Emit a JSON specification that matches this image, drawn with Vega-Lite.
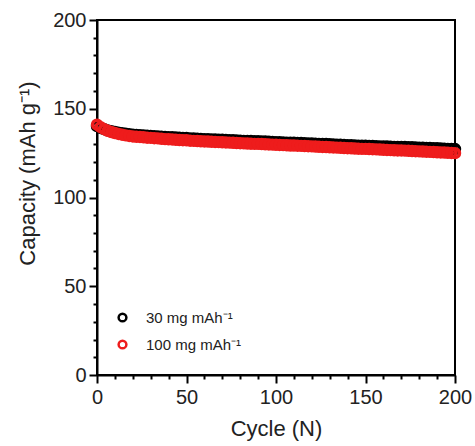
{
  "$schema": "https://vega.github.io/schema/vega-lite/v6.json",
  "autosize": {"type": "none"},
  "width": 358,
  "height": 355,
  "padding": {"left": 97, "top": 20, "right": 20, "bottom": 71},
  "background": "white",
  "config": {
    "font": "Liberation Sans",
    "view": {"stroke": "#000000", "strokeWidth": 2},
    "axis": {
      "domainColor": "#000000", "domainWidth": 2,
      "tickColor": "#000000", "tickWidth": 2,
      "grid": false,
      "labelFont": "Liberation Sans", "labelFontSize": 20, "labelColor": "#222222",
      "titleFont": "Liberation Sans", "titleFontSize": 22, "titleFontWeight": "normal", "titleColor": "#222222",
      "labelFlush": false, "labelOverlap": false
    }
  },
  "data": {"values": [
    {"c":0,"s30":140.2,"s100":141.0},{"c":2,"s30":139.2,"s100":139.6},{"c":4,"s30":138.5,"s100":138.5},{"c":6,"s30":137.8,"s100":137.6},{"c":8,"s30":137.3,"s100":136.9},
    {"c":10,"s30":136.9,"s100":136.3},{"c":12,"s30":136.5,"s100":135.8},{"c":14,"s30":136.2,"s100":135.4},{"c":16,"s30":135.9,"s100":135.0},{"c":18,"s30":135.6,"s100":134.7},
    {"c":20,"s30":135.4,"s100":134.4},{"c":22,"s30":135.2,"s100":134.2},{"c":24,"s30":135.1,"s100":134.1},{"c":26,"s30":134.9,"s100":133.9},{"c":28,"s30":134.8,"s100":133.7},
    {"c":30,"s30":134.7,"s100":133.6},{"c":32,"s30":134.5,"s100":133.4},{"c":34,"s30":134.4,"s100":133.3},{"c":36,"s30":134.3,"s100":133.1},{"c":38,"s30":134.1,"s100":132.9},
    {"c":40,"s30":134.0,"s100":132.8},{"c":42,"s30":133.9,"s100":132.7},{"c":44,"s30":133.8,"s100":132.5},{"c":46,"s30":133.7,"s100":132.4},{"c":48,"s30":133.6,"s100":132.3},
    {"c":50,"s30":133.5,"s100":132.2},{"c":52,"s30":133.3,"s100":132.0},{"c":54,"s30":133.2,"s100":131.9},{"c":56,"s30":133.1,"s100":131.8},{"c":58,"s30":133.0,"s100":131.7},
    {"c":60,"s30":132.9,"s100":131.6},{"c":62,"s30":132.8,"s100":131.5},{"c":64,"s30":132.7,"s100":131.4},{"c":66,"s30":132.7,"s100":131.3},{"c":68,"s30":132.6,"s100":131.2},
    {"c":70,"s30":132.5,"s100":131.1},{"c":72,"s30":132.4,"s100":131.0},{"c":74,"s30":132.3,"s100":130.9},{"c":76,"s30":132.2,"s100":130.8},{"c":78,"s30":132.1,"s100":130.7},
    {"c":80,"s30":132.0,"s100":130.6},{"c":82,"s30":131.9,"s100":130.5},{"c":84,"s30":131.8,"s100":130.4},{"c":86,"s30":131.8,"s100":130.3},{"c":88,"s30":131.7,"s100":130.2},
    {"c":90,"s30":131.7,"s100":130.2},{"c":92,"s30":131.6,"s100":130.1},{"c":94,"s30":131.5,"s100":130.0},{"c":96,"s30":131.4,"s100":129.9},{"c":98,"s30":131.3,"s100":129.8},
    {"c":100,"s30":131.2,"s100":129.7},{"c":102,"s30":131.1,"s100":129.6},{"c":104,"s30":131.0,"s100":129.5},{"c":106,"s30":130.9,"s100":129.4},{"c":108,"s30":130.8,"s100":129.3},
    {"c":110,"s30":130.8,"s100":129.3},{"c":112,"s30":130.7,"s100":129.2},{"c":114,"s30":130.7,"s100":129.1},{"c":116,"s30":130.6,"s100":129.0},{"c":118,"s30":130.5,"s100":128.9},
    {"c":120,"s30":130.4,"s100":128.8},{"c":122,"s30":130.3,"s100":128.7},{"c":124,"s30":130.2,"s100":128.6},{"c":126,"s30":130.1,"s100":128.5},{"c":128,"s30":130.1,"s100":128.4},
    {"c":130,"s30":130.0,"s100":128.3},{"c":132,"s30":129.9,"s100":128.2},{"c":134,"s30":129.8,"s100":128.1},{"c":136,"s30":129.7,"s100":128.0},{"c":138,"s30":129.6,"s100":127.9},
    {"c":140,"s30":129.5,"s100":127.8},{"c":142,"s30":129.4,"s100":127.7},{"c":144,"s30":129.3,"s100":127.6},{"c":146,"s30":129.2,"s100":127.5},{"c":148,"s30":129.2,"s100":127.4},
    {"c":150,"s30":129.2,"s100":127.4},{"c":152,"s30":129.1,"s100":127.3},{"c":154,"s30":129.0,"s100":127.2},{"c":156,"s30":128.9,"s100":127.1},{"c":158,"s30":128.8,"s100":127.0},
    {"c":160,"s30":128.8,"s100":126.9},{"c":162,"s30":128.7,"s100":126.8},{"c":164,"s30":128.6,"s100":126.7},{"c":166,"s30":128.5,"s100":126.6},{"c":168,"s30":128.5,"s100":126.5},
    {"c":170,"s30":128.5,"s100":126.5},{"c":172,"s30":128.4,"s100":126.4},{"c":174,"s30":128.3,"s100":126.3},{"c":176,"s30":128.3,"s100":126.2},{"c":178,"s30":128.2,"s100":126.1},
    {"c":180,"s30":128.1,"s100":126.0},{"c":182,"s30":128.0,"s100":125.9},{"c":184,"s30":127.9,"s100":125.8},{"c":186,"s30":127.9,"s100":125.7},{"c":188,"s30":127.8,"s100":125.6},
    {"c":190,"s30":127.7,"s100":125.5},{"c":192,"s30":127.6,"s100":125.4},{"c":194,"s30":127.5,"s100":125.3},{"c":196,"s30":127.4,"s100":125.2},{"c":198,"s30":127.3,"s100":125.1},
    {"c":200,"s30":127.3,"s100":125.0}
  ]},
  "transform": [{"fold": ["s30", "s100"], "as": ["series", "cap"]}],
  "mark": {"type": "point", "filled": false, "strokeWidth": 3.5, "size": 80, "opacity": 1, "fill": "white", "fillOpacity": 0},
  "encoding": {
    "x": {
      "field": "c", "type": "quantitative",
      "scale": {"domain": [0, 200], "nice": false, "zero": false},
      "axis": {
        "title": "Cycle (N)",
        "values": [0,10,20,30,40,50,60,70,80,90,100,110,120,130,140,150,160,170,180,190,200],
        "labelExpr": "datum.value % 50 === 0 ? datum.label : ''",
        "tickSize": {"condition": {"test": "datum.value % 50 === 0", "value": 8}, "value": 4},
        "labelPadding": 4,
        "titlePadding": 11
      }
    },
    "y": {
      "field": "cap", "type": "quantitative",
      "scale": {"domain": [0, 200], "nice": false, "zero": false},
      "axis": {
        "title": "Capacity (mAh g⁻¹)",
        "values": [0,10,20,30,40,50,60,70,80,90,100,110,120,130,140,150,160,170,180,190,200],
        "labelExpr": "datum.value % 50 === 0 ? datum.label : ''",
        "tickSize": {"condition": {"test": "datum.value % 50 === 0", "value": 8}, "value": 4},
        "labelPadding": 3,
        "titlePadding": 13,
        "titleY": 153
      }
    },
    "color": {
      "field": "series", "type": "nominal",
      "scale": {"domain": ["s30", "s100"], "range": ["#000000", "#ee1c1c"]},
      "legend": {
        "title": null,
        "orient": "none",
        "legendX": 18,
        "legendY": 290,
        "labelExpr": "datum.value === 's30' ? '30 mg mAh⁻¹' : '100 mg mAh⁻¹'",
        "labelFont": "Liberation Sans",
        "labelFontSize": 15,
        "labelColor": "#222222",
        "symbolType": "circle",
        "symbolFillColor": "white",
        "symbolStrokeWidth": 2.5,
        "symbolSize": 60,
        "rowPadding": 8,
        "labelOffset": 16
      }
    },
    "order": {"field": "series", "sort": "descending"}
  }
}
